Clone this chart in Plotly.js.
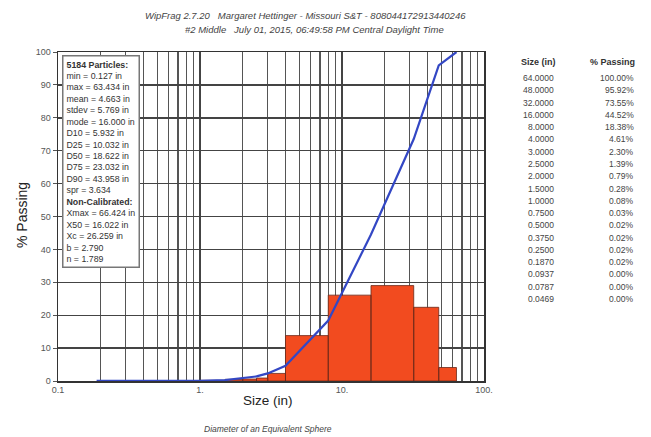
<!DOCTYPE html>
<html><head><meta charset="utf-8">
<script src="https://cdn.plot.ly/plotly-3.0.1.min.js"></script>
<style>body{margin:0;background:#fff}#c{width:651px;height:437px}</style>
</head><body><div id="c"></div>
<script>
// ---- data ----
var sieveSizes = [64.0, 48.0, 32.0, 16.0, 8.0, 4.0, 3.0, 2.5, 2.0, 1.5, 1.0, 0.75, 0.5, 0.375, 0.25, 0.187, 0.0937, 0.0787, 0.0469];
var sizeLabels = ["64.0000","48.0000","32.0000","16.0000","8.0000","4.0000","3.0000","2.5000","2.0000","1.5000","1.0000","0.7500","0.5000","0.3750","0.2500","0.1870","0.0937","0.0787","0.0469"];
var passing = [100.00, 95.92, 73.55, 44.52, 18.38, 4.61, 2.30, 1.39, 0.79, 0.28, 0.08, 0.03, 0.02, 0.02, 0.02, 0.02, 0.00, 0.00, 0.00];
var passingLabels = ["100.00%","95.92%","73.55%","44.52%","18.38%","4.61%","2.30%","1.39%","0.79%","0.28%","0.08%","0.03%","0.02%","0.02%","0.02%","0.02%","0.00%","0.00%","0.00%"];
// curve points (ascending size)
var curveSizes = [0.187, 0.25, 0.375, 0.5, 0.75, 1.0, 1.5, 2.0, 2.5, 3.0, 4.0, 8.0, 16.0, 32.0, 48.0, 64.0];
var curvePassing = [0.02, 0.02, 0.02, 0.02, 0.03, 0.08, 0.28, 0.79, 1.39, 2.30, 4.61, 18.38, 44.52, 73.55, 95.92, 100.0];
// histogram bins (% retained)
var binLo = [1.0, 1.5, 2.0, 2.5, 3.0, 4.0, 8.0, 16.0, 32.0, 48.0];
var binHi = [1.5, 2.0, 2.5, 3.0, 4.0, 8.0, 16.0, 32.0, 48.0, 64.0];
var retained = [0.2, 0.5, 0.6, 0.9, 2.3, 13.8, 26.1, 29.0, 22.4, 4.1];
var statsLines = ["<b>5184 Particles:</b>","min = 0.127 in","max = 63.434 in","mean = 4.663 in","stdev = 5.769 in","mode = 16.000 in","D10 = 5.932 in","D25 = 10.032 in","D50 = 18.622 in","D75 = 23.032 in","D90 = 43.958 in","spr = 3.634","<b>Non-Calibrated:</b>","Xmax = 66.424 in","X50 = 16.022 in","Xc = 26.259 in","b = 2.790","n = 1.789"];
var xTickVals = [0.1, 1, 10, 100];
var xTickText = ["0.1", "1.", "10.", "100."];
var titleLine1 = "WipFrag 2.7.20   Margaret Hettinger - Missouri S&T - 808044172913440246";
var titleLine2 = "#2 Middle   July 01, 2015, 06:49:58 PM Central Daylight Time";

// ---- layout geometry ----
var L = 58, R = 484, T = 52, B = 381;
function px(x){ return (x - L) / (R - L); }
function py(y){ return (B - y) / (B - T); }

// minor grid positions (2..9 of each decade)
var minorVals = [];
[0.1, 1, 10].forEach(function(d){ for (var k = 2; k <= 9; k++) minorVals.push(d * k); });

// histogram polygons
var hx = [], hy = [];
for (var i = 0; i < binLo.length; i++) {
  hx.push(binLo[i], binLo[i], binHi[i], binHi[i], binLo[i], null);
  hy.push(0, retained[i], retained[i], 0, 0, null);
}

var traces = [
  {x: hx, y: hy, type: 'scatter', mode: 'lines', fill: 'toself', fillcolor: '#f24b1f',
   line: {color: '#6a2a1a', width: 0.8}, hoverinfo: 'skip'},
  {x: curveSizes, y: curvePassing, type: 'scatter', mode: 'lines',
   line: {color: '#3347c4', width: 2.2}, hoverinfo: 'skip'}
];

var ann = [];
function A(xp, yp, text, size, color, opts) {
  var a = {xref:'paper', yref:'paper', x: px(xp), y: py(yp), text: text, showarrow:false,
    xanchor:'center', yanchor:'middle',
    font:{family:'Arial, Liberation Sans', size:size, color:color}};
  if (opts) for (var k in opts) a[k] = opts[k];
  ann.push(a);
}
A(305, 15, '<i>' + titleLine1 + '</i>', 9.5, '#444');
A(314, 30, '<i>' + titleLine2 + '</i>', 9.5, '#444');
A(268, 401, 'Size (in)', 13.5, '#222');
A(268, 429, '<i>Diameter of an Equivalent Sphere</i>', 8.5, '#444');
A(22, 215, '% Passing', 14, '#222', {textangle: -90});
// stats box
A(62, 55, statsLines.join('<br>'), 8.8, '#333', {xanchor:'left', yanchor:'top', align:'left',
  bgcolor:'#ffffff', bordercolor:'#777', borderwidth:1.5, borderpad:3});
// right table
A(538, 62, '<b>Size (in)</b>', 9, '#333');
A(612, 62, '<b>% Passing</b>', 9, '#333');
for (var r = 0; r < sizeLabels.length; r++) {
  var yr = 78 + r * 12.28;
  A(556, yr, sizeLabels[r], 8.5, '#444', {xanchor:'right'});
  A(636, yr, passingLabels[r], 8.5, '#444', {xanchor:'right'});
}

var layout = {
  width: 651, height: 437,
  margin: {l: L, r: 651 - R, t: T, b: 437 - B, pad: 0},
  paper_bgcolor: '#ffffff', plot_bgcolor: '#ffffff',
  showlegend: false,
  xaxis: {type: 'log', range: [-1, 2], tickvals: xTickVals, ticktext: xTickText,
    showgrid: true, gridcolor: '#444', gridwidth: 1.4,
    minor: {tickvals: minorVals, showgrid: true, gridcolor: '#555', gridwidth: 1.3, ticks: ''},
    showline: true, linecolor: '#333', linewidth: 1.5, mirror: true, zeroline: false,
    ticks: '', tickfont: {family: 'Arial, Liberation Sans', size: 9, color: '#555'}},
  yaxis: {range: [0, 100], dtick: 10, showgrid: true, gridcolor: '#444', gridwidth: 1.4,
    showline: true, linecolor: '#333', linewidth: 1.5, mirror: true, zeroline: false,
    ticks: 'outside', ticklen: 4, tickcolor: '#555',
    tickfont: {family: 'Arial, Liberation Sans', size: 9, color: '#555'}},
  annotations: ann
};
Plotly.newPlot('c', traces, layout, {staticPlot: true});
</script></body></html>
